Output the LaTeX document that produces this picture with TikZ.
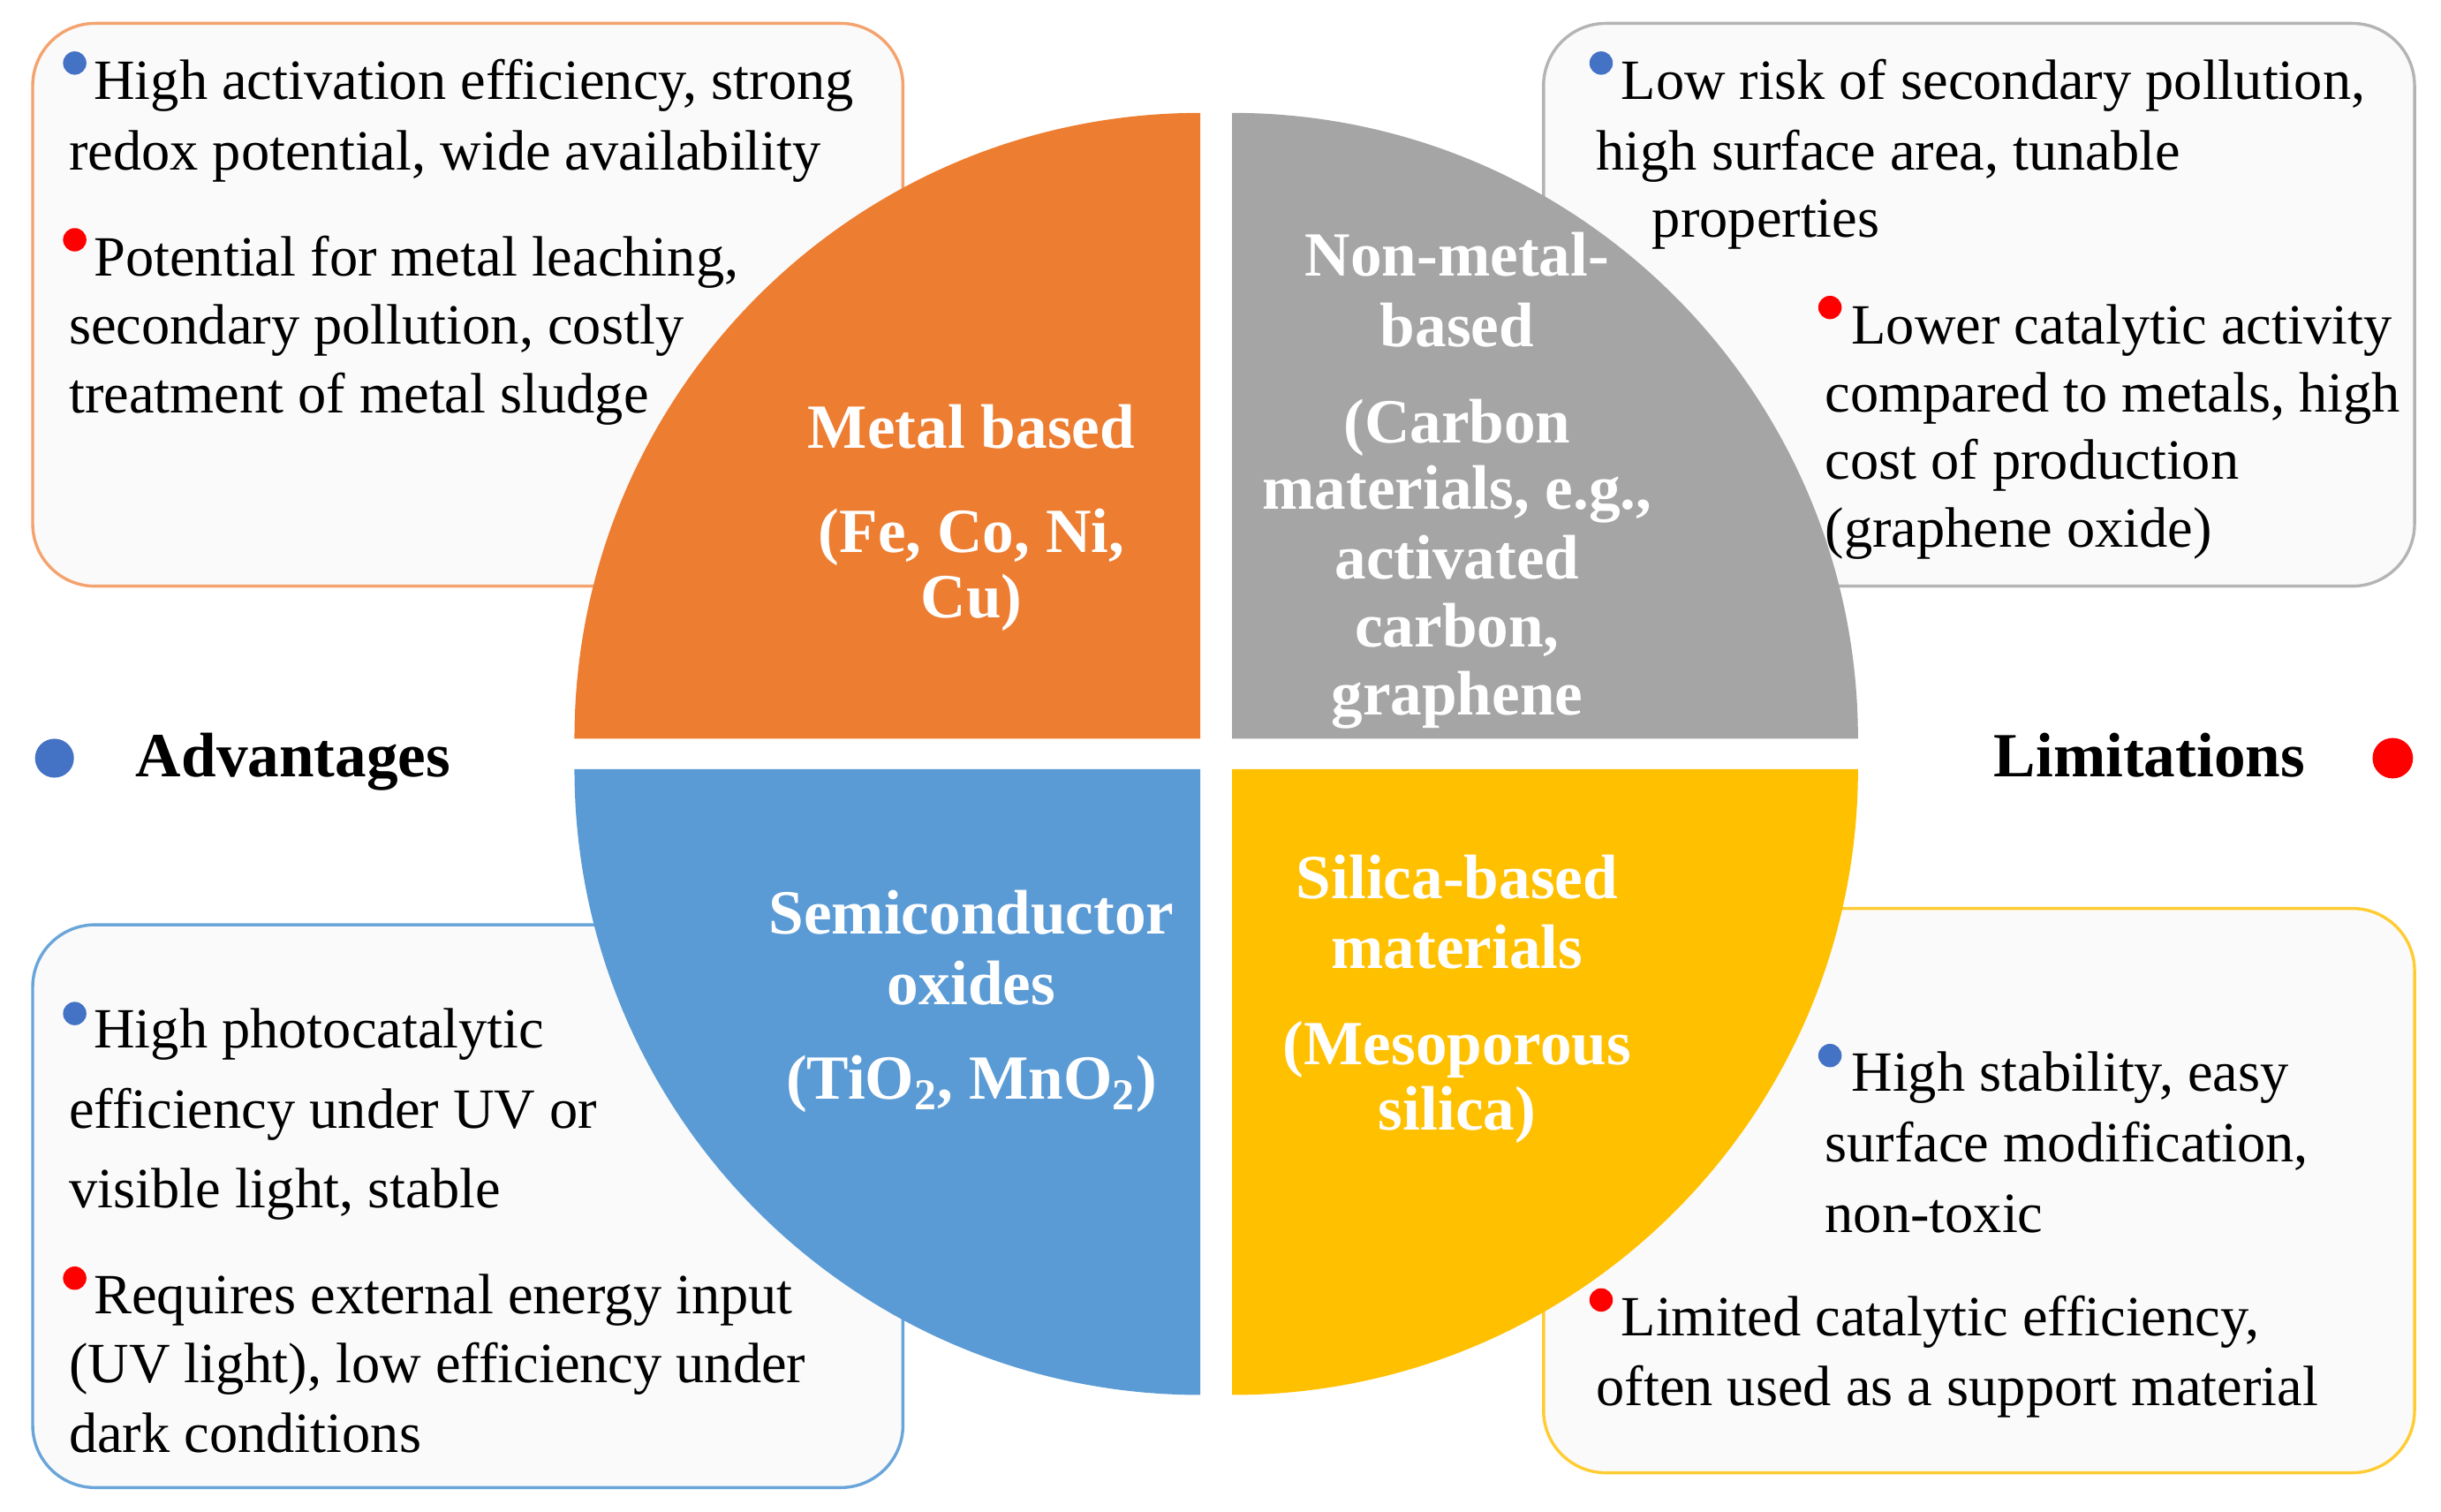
\documentclass[tikz,border=0pt]{standalone}
\usepackage{fontspec}
\setmainfont{Liberation Serif}
\definecolor{qorange}{HTML}{ED7D31}
\definecolor{qgray}{HTML}{A5A5A5}
\definecolor{qblue}{HTML}{5B9BD5}
\definecolor{qyellow}{HTML}{FFC000}
\definecolor{dotblue}{HTML}{4472C4}
\definecolor{dotred}{HTML}{FF0000}
\definecolor{boxfill}{HTML}{FAFAFA}
\definecolor{borange}{HTML}{F4A36E}
\definecolor{bgray}{HTML}{B4B4B4}
\definecolor{bblue}{HTML}{6AA5DA}
\definecolor{byellow}{HTML}{FFCC33}
\begin{document}
\begin{tikzpicture}[x=0.02cm,y=-0.02cm,
  bt/.style={anchor=base west, inner sep=0pt, font=\fontsize{20.8}{25}\selectfont},
  qt/.style={anchor=base, inner sep=0pt, text=white, font=\fontsize{23}{28}\selectfont\bfseries},
  hd/.style={inner sep=0pt, font=\fontsize{23}{28}\selectfont\bfseries},
  infobox/.style={fill=boxfill, line width=1.1pt, rounded corners=0.8cm},
  sdot/.style={circle, inner sep=0pt, minimum size=0.3cm},
  bdot/.style={circle, inner sep=0pt, minimum size=0.5cm}]
\useasboundingbox (0,0) rectangle (1568,971);

% info boxes
\path[infobox, draw=borange] (21,15) rectangle (580,376.5);
\path[infobox, draw=bgray] (991.5,15) rectangle (1551,376.5);
\path[infobox, draw=bblue] (21,594) rectangle (580,955.5);
\path[infobox, draw=byellow] (991.5,583.5) rectangle (1551,946);

% top-left texts
\node[sdot, fill=dotblue] (d1) at (48,40.5) {};
\node[bt] (tl1) at (60,64) {High activation efficiency, strong};
\node[bt] (tl2) at (44,109) {redox potential, wide availability};
\node[sdot, fill=dotred] (d2) at (48,154) {};
\node[bt] (tl3) at (60,177.5) {Potential for metal leaching,};
\node[bt] (tl4) at (44,221) {secondary pollution, costly};
\node[bt] (tl5) at (44,265) {treatment of metal sludge};

% top-right texts
\node[sdot, fill=dotblue] (d3) at (1028.5,40.5) {};
\node[bt] (tr1) at (1041,64) {Low risk of secondary pollution,};
\node[bt] (tr2) at (1025,109) {high surface area, tunable};
\node[bt] (tr3) at (1061,152.5) {properties};
\node[sdot, fill=dotred] (d4) at (1175.5,197.5) {};
\node[bt] (tr4) at (1189,221) {Lower catalytic activity};
\node[bt] (tr5) at (1172,264.5) {compared to metals, high};
\node[bt] (tr6) at (1172,308) {cost of production};
\node[bt] (tr7) at (1172,351.5) {(graphene oxide)};

% bottom-left texts
\node[sdot, fill=dotblue] (d5) at (48,651) {};
\node[bt] (bl1) at (60,673) {High photocatalytic};
\node[bt] (bl2) at (44,724.5) {efficiency under UV or};
\node[bt] (bl3) at (44,776) {visible light, stable};
\node[sdot, fill=dotred] (d6) at (48,821) {};
\node[bt] (bl4) at (60,844) {Requires external energy input};
\node[bt] (bl5) at (44,888) {(UV light), low efficiency under};
\node[bt] (bl6) at (44,933) {dark conditions};

% bottom-right texts
\node[sdot, fill=dotblue] (d7) at (1175.5,678) {};
\node[bt] (br1) at (1189,701) {High stability, easy};
\node[bt] (br2) at (1172,746) {surface modification,};
\node[bt] (br3) at (1172,791.5) {non-toxic};
\node[sdot, fill=dotred] (d8) at (1028.5,835) {};
\node[bt] (br4) at (1041,858) {Limited catalytic efficiency,};
\node[bt] (br5) at (1025,903) {often used as a support material};

% quadrants
\fill[qorange] (771,474.5) -- (369,474.5) arc[start angle=180, end angle=270, radius=402] -- cycle;
\fill[qgray] (791.5,474.5) -- (791.5,72.5) arc[start angle=270, end angle=360, radius=402] -- cycle;
\fill[qblue] (771,494) -- (369,494) arc[start angle=180, end angle=90, radius=402] -- cycle;
\fill[qyellow] (791.5,494) -- (1193.5,494) arc[start angle=0, end angle=90, radius=402] -- cycle;

% quadrant labels
\node[qt] (m1) at (624,288) {Metal based};
\node[qt] (m2) at (624,355) {(Fe, Co, Ni,};
\node[qt] (m3) at (624,397) {Cu)};

\node[qt] (n1) at (936,177.5) {Non-metal-};
\node[qt] (n2) at (936,222.5) {based};
\node[qt] (n3) at (936,284.5) {(Carbon};
\node[qt] (n4) at (936,327) {materials, e.g.,};
\node[qt] (n5) at (936,372) {activated};
\node[qt] (n6) at (936,415.5) {carbon,};
\node[qt] (n7) at (936,459) {graphene};

\node[qt] (s1) at (624,600) {Semiconductor};
\node[qt] (s2) at (624,645) {oxides};
\node[qt] (s3) at (624,706) {(TiO\textsubscript{2}, MnO\textsubscript{2})};

\node[qt] (y1) at (936,577) {Silica-based};
\node[qt] (y2) at (936,622) {materials};
\node[qt] (y3) at (936,684) {(Mesoporous};
\node[qt] (y4) at (936,726) {silica)};

% side headings
\node[bdot, fill=dotblue] (advdot) at (35,487) {};
\node[hd, anchor=base west] (adv) at (87,499) {Advantages};
\node[hd, anchor=base east] (lim) at (1481,499) {Limitations};
\node[bdot, fill=dotred, minimum size=0.52cm] (limdot) at (1537,487) {};
\end{tikzpicture}
\end{document}
